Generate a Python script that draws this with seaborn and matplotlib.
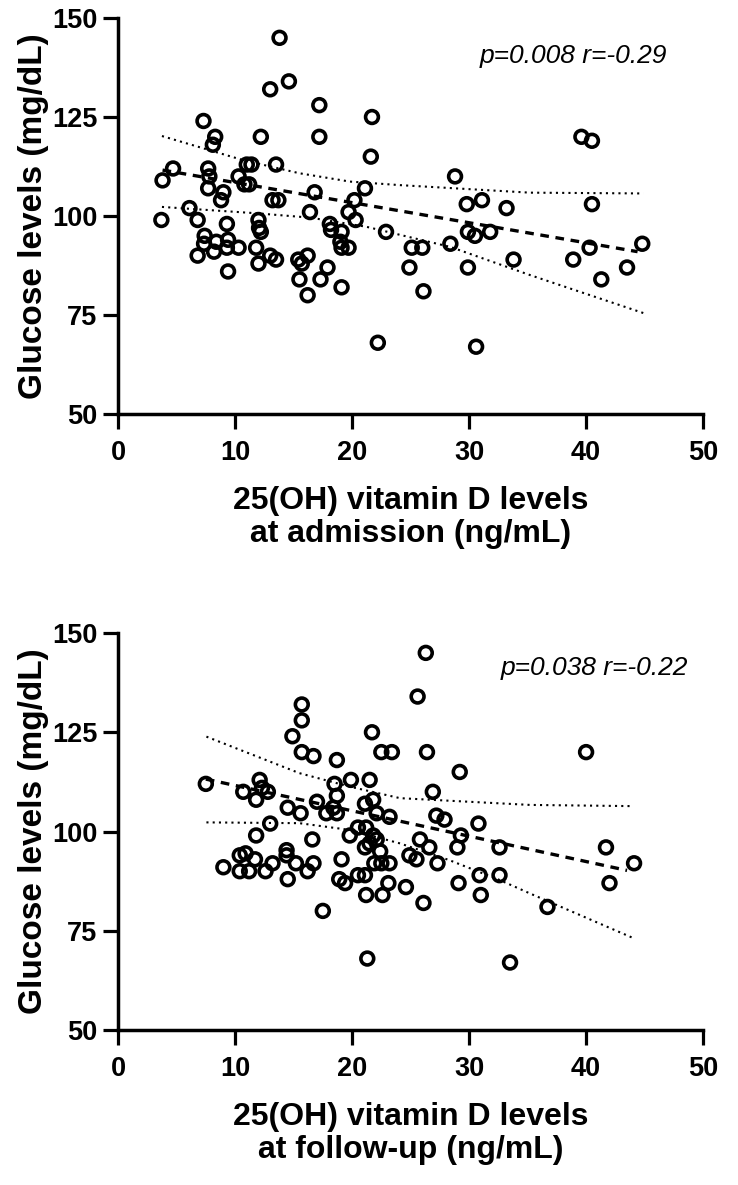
import numpy as np
import pandas as pd
import matplotlib
matplotlib.use("Agg")
import matplotlib.pyplot as plt
import seaborn as sns

# ---------------------------------------------------------------------------
# Data (25(OH) vitamin D in ng/mL, glucose in mg/dL)
# ---------------------------------------------------------------------------
adm_vitd = [13.8, 13.0, 14.6, 17.2, 7.3, 8.3, 8.1, 12.2, 17.2, 21.7, 21.6, 28.8,
            4.7, 3.8, 7.7, 7.8, 7.7, 9.0, 8.8, 11.0, 11.4, 10.3, 10.8, 11.2, 13.5,
            13.2, 13.7, 16.8, 6.1,
            16.4, 3.7, 6.8, 9.3, 12.0, 12.05, 12.2, 7.4, 7.35, 8.4, 9.4, 9.3, 10.3,
            8.2, 6.8, 11.8, 13.0, 13.5, 12.0, 9.4, 15.4, 15.7, 16.2, 15.5, 16.2,
            21.1, 20.2, 29.8, 31.1, 33.2,
            19.7, 20.3, 18.1, 18.2, 19.1, 19.0, 19.1, 19.7, 22.9, 25.1, 26.0, 24.9,
            26.1, 17.9, 17.3, 19.1, 22.2, 30.6, 29.9, 30.5, 31.8, 28.4, 29.9, 33.8,
            39.6, 40.5, 40.5, 40.3, 44.8, 38.9, 43.5, 41.3]
adm_glucose = [145, 132, 134, 128, 124, 120, 118, 120, 120, 125, 115, 110,
               112, 109, 112, 110, 107, 106, 104, 113, 113, 110, 108, 108, 113,
               104, 104, 106, 102,
               101, 99, 99, 98, 99, 97, 96, 95, 93, 93.5, 94, 92, 92,
               91, 90, 92, 90, 89, 88, 86, 89, 88, 90, 84, 80,
               107, 104, 103, 104, 102,
               101, 99, 98, 96.5, 96, 93.5, 92, 92, 96, 92, 92, 87,
               81, 87, 84, 82, 68, 67, 96, 95, 96, 93, 87, 89,
               120, 119, 103, 92, 93, 89, 87, 84]

fu_vitd = [15.7, 15.7, 14.9, 15.7, 16.7, 7.5, 10.7, 12.1, 12.3, 12.8, 11.8, 14.5,
           15.6, 17.0,
           13.0, 11.8, 16.6, 10.4, 10.9, 11.7, 14.4, 14.4, 9.0, 10.4, 11.2, 12.6,
           13.2, 15.2, 16.2, 16.7, 14.5, 17.5,
           26.3, 25.6, 21.7, 22.5, 23.4, 26.4, 18.7, 29.2, 19.9, 21.5, 18.5, 18.7,
           26.9, 21.8, 21.1, 17.8, 18.7, 22.1, 23.2, 27.2, 27.9, 30.8,
           18.4, 19.8, 20.5, 21.2, 21.8, 22.1, 21.5, 21.1, 22.4, 21.9, 22.5, 23.2,
           25.8, 26.6, 24.9, 25.5, 27.3, 29.3, 29.0, 32.6, 19.1, 18.9, 19.4, 20.5,
           21.1, 23.1, 24.6, 21.2, 22.6, 26.1, 29.1, 30.9, 32.6, 31.0, 21.3, 33.5,
           40.0, 41.7, 44.1, 42.0, 36.7]
fu_glucose = [132, 128, 124, 120, 119, 112, 110, 113, 111, 110, 108, 106,
              104.6, 107.5,
              102, 99, 98, 94, 94.5, 93, 95.3, 94, 91, 90, 90, 90,
              92, 92, 90, 92, 88, 80,
              145, 134, 125, 120, 120, 120, 118, 115, 113, 113, 112, 109,
              110, 108, 107, 104.6, 104.6, 104.6, 103.7, 104, 103, 102,
              106, 99, 101, 101, 99, 98, 97, 96, 95, 92, 92, 92,
              98, 96, 94, 93, 92, 99, 96, 96, 93, 88, 87, 89,
              89, 87, 86, 84, 84, 82, 87, 89, 89, 84, 68, 67,
              120, 96, 92, 87, 81]

# Regression line and 95% band as drawn in the figure
adm_fit_x = [3.8, 44.4]
adm_fit_y = [111.6, 91.0]
adm_ci_x = [3.75, 10.7, 15.5, 19.8, 24.1, 35.2, 44.9]
adm_ci_hi = [120.2, 114.1, 110.8, 108.7, 107.8, 105.9, 105.7]
adm_ci_lo_x = [3.75, 11.8, 16.4, 21.2, 28.4, 35.2, 45.0]
adm_ci_lo = [102.3, 100.7, 99.6, 97.3, 92.2, 85.1, 75.4]

fu_fit_x = [7.5, 43.5]
fu_fit_y = [113.2, 90.2]
fu_ci_x = [7.55, 15.5, 19.8, 24.1, 35.2, 43.8]
fu_ci_hi = [123.9, 114.7, 111.3, 108.4, 106.7, 106.4]
fu_ci_lo_x = [7.55, 15.5, 19.8, 24.1, 28.3, 32.6, 35.2, 44.0]
fu_ci_lo = [102.3, 102.1, 100.4, 97.0, 92.8, 87.8, 84.4, 73.2]

panels = [
    dict(vx=adm_vitd, vy=adm_glucose, fx=adm_fit_x, fy=adm_fit_y,
         hx=adm_ci_x, hy=adm_ci_hi, lx=adm_ci_lo_x, ly=adm_ci_lo,
         xlabel="25(OH) vitamin D levels\nat admission (ng/mL)",
         stat="p=0.008 r=-0.29", pos=(0.938, 0.886)),
    dict(vx=fu_vitd, vy=fu_glucose, fx=fu_fit_x, fy=fu_fit_y,
         hx=fu_ci_x, hy=fu_ci_hi, lx=fu_ci_lo_x, ly=fu_ci_lo,
         xlabel="25(OH) vitamin D levels\nat follow-up (ng/mL)",
         stat="p=0.038 r=-0.22", pos=(0.974, 0.894)),
]

# ---------------------------------------------------------------------------
# Style
# ---------------------------------------------------------------------------
sns.set_style("ticks")
plt.rcParams['font.family'] = ['Liberation Sans', 'DejaVu Sans']
plt.rcParams['font.weight'] = 'bold'
plt.rcParams['axes.labelweight'] = 'bold'
for key in ['text.color', 'axes.labelcolor', 'xtick.color', 'ytick.color']:
    plt.rcParams[key] = 'black'

fig = plt.figure(figsize=(7.38, 11.85), dpi=100)
axes = [fig.add_axes([0.160, 0.6506, 0.7927, 0.3342]),
        fig.add_axes([0.160, 0.1308, 0.7927, 0.3350])]

for ax, p in zip(axes, panels):
    df = pd.DataFrame({'vitd': p['vx'], 'glucose': p['vy']})

    dotted = dict(ax=ax, color='black', lw=1.5, linestyle=(0, (1, 2.0)))
    sns.lineplot(x=p['hx'], y=p['hy'], **dotted)
    sns.lineplot(x=p['lx'], y=p['ly'], **dotted)
    sns.lineplot(x=p['fx'], y=p['fy'], ax=ax, color='black', lw=2.4,
                 linestyle=(0, (2.6, 2.0)))
    sns.scatterplot(data=df, x='vitd', y='glucose', ax=ax, s=85,
                    facecolor='none', edgecolor='black', linewidth=2.6, zorder=3)

    ax.set_xlim(0, 50)
    ax.set_ylim(50, 150)
    ax.set_xticks(range(0, 51, 10))
    ax.set_yticks(range(50, 151, 25))
    ax.set_xlabel(p['xlabel'], fontsize=23, labelpad=14, linespacing=1.12)
    ax.set_ylabel("Glucose levels (mg/dL)", fontsize=24, labelpad=2)
    ax.tick_params(axis='both', labelsize=19.5, width=2.3, length=11)
    ax.tick_params(axis='x', pad=8)
    ax.tick_params(axis='y', pad=4)
    for sp in ['left', 'bottom']:
        ax.spines[sp].set_linewidth(2.5)
        ax.spines[sp].set_color('black')
    sns.despine(ax=ax)

    ax.text(p['pos'][0], p['pos'][1], p['stat'], transform=ax.transAxes,
            ha='right', va='baseline', fontsize=19, style='italic',
            fontweight='normal')

fig.savefig('out.png', dpi=100)
